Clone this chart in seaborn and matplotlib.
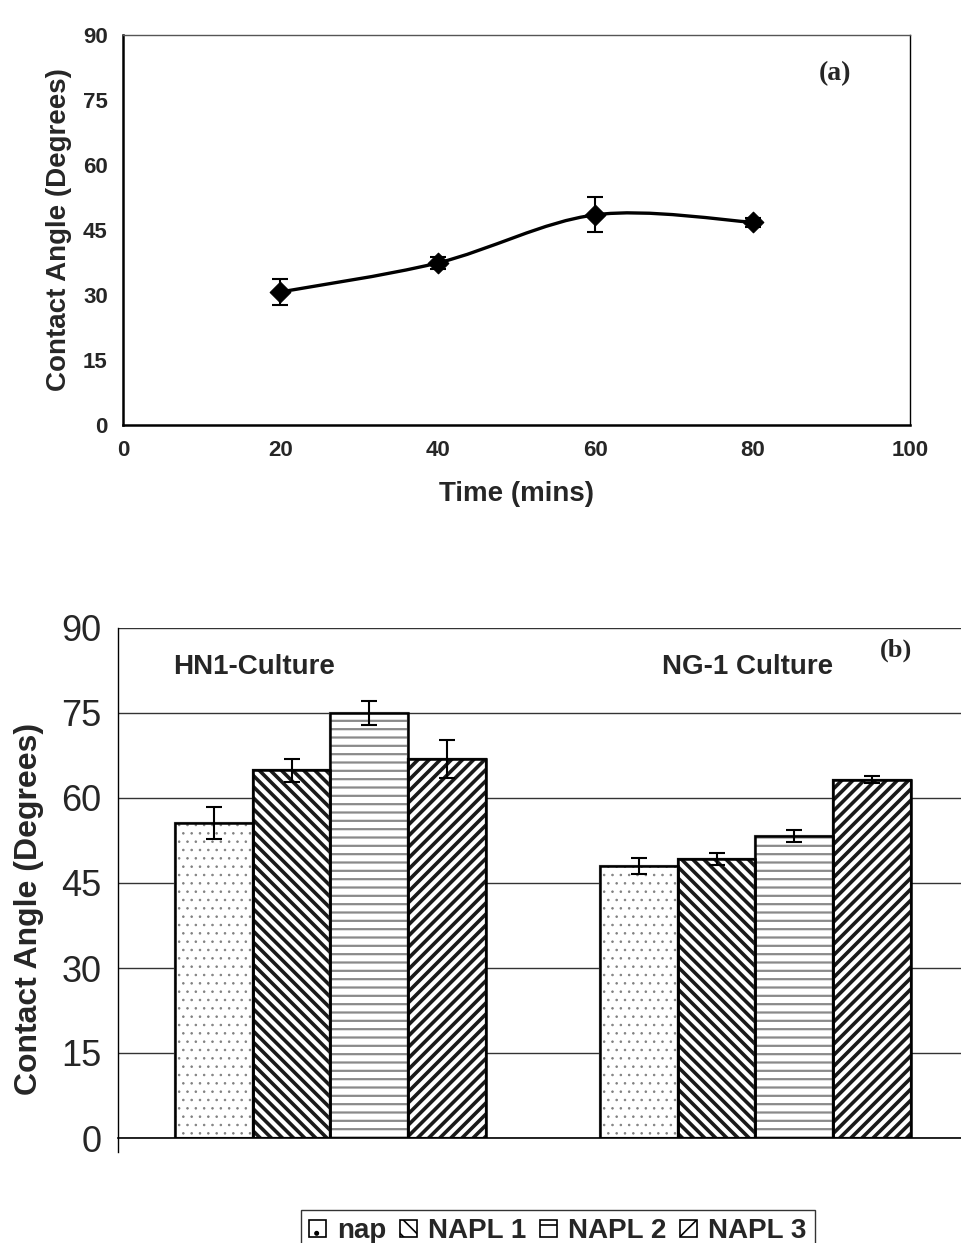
import matplotlib
matplotlib.use("Agg")
import matplotlib.pyplot as plt
from matplotlib.path import Path
from matplotlib.patches import PathPatch, Patch
import seaborn as sns
import pandas as pd
import numpy as np

# ---- data (a): contact angle vs time
time_min = [20, 40, 60, 80]
angle_a = [30.7, 37.4, 48.5, 46.8]
err_a = [2.9, 1.3, 4.0, 1.0]

# ---- data (b): contact angle per culture and NAPL
cultures = ["HN1-Culture", "NG-1 Culture"]
napls = ["nap", "NAPL 1", "NAPL 2", "NAPL 3"]
angle_hn1 = [55.6, 64.9, 75.0, 66.9]
angle_ng1 = [48.0, 49.2, 53.3, 63.2]
err_hn1 = [2.8, 2.0, 2.2, 3.3]
err_ng1 = [1.4, 1.1, 1.0, 0.6]

sns.set_style("white")
plt.rcParams["font.family"] = ["Liberation Sans", "DejaVu Sans"]
plt.rcParams["hatch.linewidth"] = 2.6

fig = plt.figure(figsize=(9.62, 12.43), dpi=100)

# ================= panel (a) =================
ax1 = fig.add_axes([123 / 962, 1 - 425 / 1243, 787 / 962, 390 / 1243])
df_a = pd.DataFrame({"time": time_min, "angle": angle_a, "err": err_a})


def smooth_path(xs, ys):
    """Excel-like smoothed line through the points (cubic bezier)."""
    pts = np.column_stack([xs, ys]).astype(float)
    ext = np.vstack([pts[0], pts, pts[-1]])
    verts = [tuple(pts[0])]
    codes = [Path.MOVETO]
    for i in range(len(pts) - 1):
        p0, p1, p2, p3 = ext[i], ext[i + 1], ext[i + 2], ext[i + 3]
        c1 = p1 + (p2 - p0) / 6
        c2 = p2 - (p3 - p1) / 6
        verts += [tuple(c1), tuple(c2), tuple(p2)]
        codes += [Path.CURVE4] * 3
    return Path(verts, codes)


ax1.add_patch(PathPatch(smooth_path(df_a["time"], df_a["angle"]),
                        fill=False, edgecolor="black", lw=2.4, zorder=2))
ax1.errorbar(df_a["time"], df_a["angle"], yerr=df_a["err"], fmt="none",
             ecolor="black", elinewidth=1.5, capsize=6, capthick=1.5, zorder=3)
sns.scatterplot(data=df_a, x="time", y="angle", marker="D", s=110,
                color="black", edgecolor="black", ax=ax1, zorder=4)

ax1.set_xlim(0, 100)
ax1.set_ylim(0, 90)
ax1.set_xticks([0, 20, 40, 60, 80, 100])
ax1.set_yticks([0, 15, 30, 45, 60, 75, 90])
ax1.tick_params(axis="both", direction="out", length=6, width=1, color="#444",
                labelsize=16, pad=5)
for lab in ax1.get_xticklabels() + ax1.get_yticklabels():
    lab.set_fontweight("bold")
ax1.set_xlabel("Time (mins)", fontsize=20, fontweight="bold", labelpad=14)
ax1.set_ylabel("Contact Angle (Degrees)", fontsize=20, fontweight="bold", labelpad=8)
for side in ["left", "bottom"]:
    ax1.spines[side].set_color("black")
    ax1.spines[side].set_linewidth(1.8)
ax1.spines["right"].set_color("black")
ax1.spines["right"].set_linewidth(1.0)
ax1.spines["top"].set_color("#555")
ax1.spines["top"].set_linewidth(1.0)
ax1.text(0.905, 0.9, "(a)", transform=ax1.transAxes, ha="center", va="center",
         fontsize=20, fontweight="bold", family="Liberation Serif")

# ================= panel (b) =================
ax2 = fig.add_axes([118 / 962, 1 - 1138 / 1243, 850 / 962, 510 / 1243])
df_b = pd.DataFrame({
    "culture": np.repeat(cultures, len(napls)),
    "napl": napls * len(cultures),
    "angle": angle_hn1 + angle_ng1,
    "err": err_hn1 + err_ng1,
})

ax2.yaxis.grid(True, color="#333", lw=1.0)
ax2.set_axisbelow(True)
sns.barplot(data=df_b, x="culture", y="angle", hue="napl", order=cultures,
            hue_order=napls, width=0.73, palette=["white"] * 4,
            edgecolor="black", linewidth=1.6, errorbar=None, legend=False,
            ax=ax2, zorder=2)

hatches = ["..", "\\\\\\", "--", "///"]
hatch_cols = ["#808080", "#1a1a1a", "#8a8a8a", "#1a1a1a"]
hatch_lws = [0.6, 2.6, 1.6, 2.6]
bars = [p for p in ax2.patches if p.get_height() > 0]
xs, hs, ws = [], [], []
for i, p in enumerate(bars):
    j = i // len(cultures)  # seaborn draws hue level by level
    p.set_hatch(hatches[j])
    p.set_edgecolor(hatch_cols[j])
    if hasattr(p, "set_hatch_linewidth"):
        p.set_hatch_linewidth(hatch_lws[j])
    xs.append(p.get_x() + p.get_width() / 2)
    hs.append(p.get_height())
    ws.append(p.get_width())
ax2.bar(xs, hs, width=ws, fill=False, edgecolor="black", linewidth=1.8, zorder=3)

# error bars: match each bar to its row in df_b
for x, h in zip(xs, hs):
    row = df_b.iloc[(df_b["angle"] - h).abs().argmin()]
    ax2.errorbar(x, h, yerr=row["err"], fmt="none", ecolor="black",
                 elinewidth=1.5, capsize=6, capthick=1.5, zorder=4)

ax2.set_xlim(-0.5, 1.5)
ax2.set_ylim(0, 90)
ax2.set_yticks([0, 15, 30, 45, 60, 75, 90])
ax2.set_xticks([0.5])
ax2.set_xticklabels([""])
ax2.tick_params(axis="y", direction="out", length=8, width=1, color="#444",
                labelsize=26, pad=4)
ax2.tick_params(axis="x", direction="out", length=12, width=1, color="#444")
ax2.set_xlabel("")
ax2.set_ylabel("Contact Angle (Degrees)", fontsize=23, fontweight="bold")
ax2.yaxis.set_label_coords(-0.087, 0.45)
for side in ["top", "right"]:
    ax2.spines[side].set_visible(False)
ax2.spines["left"].set_color("black")
ax2.spines["left"].set_linewidth(1.0)
ax2.spines["left"].set_bounds(-2.5, 90)
ax2.spines["bottom"].set_color("black")
ax2.spines["bottom"].set_linewidth(1.2)

ax2.text(-0.37, 83.2, "HN1-Culture", ha="left", va="center", fontsize=20,
         fontweight="bold")
ax2.text(0.78, 83.2, "NG-1 Culture", ha="left", va="center", fontsize=20,
         fontweight="bold")
ax2.text(1.33, 86.0, "(b)", ha="center", va="center", fontsize=19,
         fontweight="bold", family="Liberation Serif")

# legend
handles = [Patch(facecolor="white", edgecolor="black", hatch=h, lw=1.2)
           for h in [".", "\\\\", "-", "//"]]
leg = fig.legend(handles, napls, ncol=4, loc="upper left",
                 bbox_to_anchor=(287 / 962, 1 - 1196 / 1243),
                 frameon=True, fancybox=False, edgecolor="black",
                 handlelength=0.6, handleheight=0.6, handletextpad=0.4,
                 columnspacing=0.5, borderpad=0.3,
                 prop={"weight": "bold", "size": 20})
leg.get_frame().set_linewidth(1.0)
for h in leg.legend_handles:
    if hasattr(h, "set_hatch_linewidth"):
        h.set_hatch_linewidth(1.2)

fig.savefig("out.png", dpi=100)
